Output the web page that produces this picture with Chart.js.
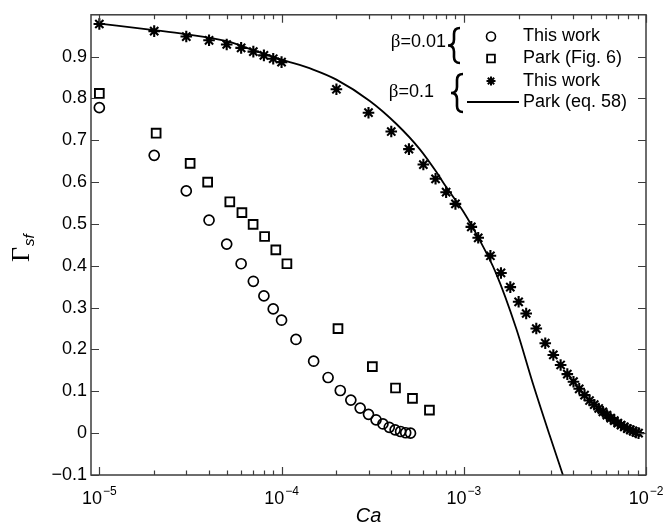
<!DOCTYPE html>
<html>
<head>
<meta charset="utf-8">
<script src="https://cdn.jsdelivr.net/npm/chart.js@4.4.1/dist/chart.umd.min.js"></script>
<style>
  html, body { margin: 0; padding: 0; background: #fff; }
  #wrap { width: 665px; height: 528px; }
</style>
</head>
<body>
<div id="wrap"><canvas id="c" width="665" height="528"></canvas></div>
<script>
// beta = 0.01, this work (circles)
const caCircle = [1e-5, 2e-5, 3e-5, 4e-5, 5e-5, 6e-5, 7e-5, 8e-5, 9e-5, 1e-4, 1.2e-4, 1.5e-4, 1.8e-4,
  2.1e-4, 2.4e-4, 2.7e-4, 3.0e-4, 3.3e-4, 3.6e-4, 3.9e-4, 4.2e-4, 4.5e-4, 4.8e-4, 5.1e-4];
const gCircle = [0.778, 0.664, 0.579, 0.509, 0.452, 0.405, 0.363, 0.328, 0.297, 0.270, 0.224, 0.172, 0.133,
  0.102, 0.079, 0.060, 0.045, 0.032, 0.022, 0.014, 0.008, 0.004, 0.001, 0.000];

// beta = 0.01, Park (Fig. 6) (squares)
const caSquare = [1e-5, 2.05e-5, 3.15e-5, 3.93e-5, 5.2e-5, 6.06e-5, 6.98e-5, 8.07e-5, 9.3e-5, 1.07e-4,
  2.04e-4, 3.15e-4, 4.22e-4, 5.23e-4, 6.48e-4];
const gSquare = [0.812, 0.717, 0.645, 0.600, 0.553, 0.527, 0.499, 0.470, 0.438, 0.405,
  0.250, 0.159, 0.108, 0.083, 0.055];

// beta = 0.1, this work (asterisks)
const caStar = [1e-5, 2e-5, 3e-5, 4e-5, 5e-5, 6e-5, 7e-5, 8e-5, 9e-5, 1e-4,
  2e-4, 3e-4, 4e-4, 5e-4, 6e-4, 7e-4, 8e-4, 9e-4,
  1.1e-3, 1.2e-3, 1.4e-3, 1.6e-3, 1.8e-3, 2.0e-3, 2.2e-3,
  2.5e-3, 2.8e-3, 3.1e-3, 3.4e-3, 3.7e-3, 4.0e-3, 4.3e-3, 4.6e-3, 4.9e-3, 5.2e-3, 5.5e-3, 5.8e-3,
  6.1e-3, 6.4e-3, 6.7e-3, 7.0e-3, 7.3e-3, 7.6e-3, 7.9e-3, 8.2e-3, 8.5e-3, 8.8e-3, 9.1e-3];
const gStar = [0.978, 0.961, 0.948, 0.939, 0.929, 0.921, 0.912, 0.903, 0.895, 0.887,
  0.822, 0.766, 0.721, 0.679, 0.642, 0.608, 0.576, 0.548,
  0.493, 0.467, 0.424, 0.383, 0.349, 0.314, 0.286,
  0.250, 0.215, 0.187, 0.163, 0.141, 0.123, 0.106, 0.091, 0.078, 0.068, 0.059, 0.051,
  0.043, 0.036, 0.030, 0.024, 0.019, 0.015, 0.011, 0.008, 0.005, 0.002, 0.000];

// beta = 0.1, Park (eq. 58) (solid line)
const caPark = [1e-5, 1.94e-5, 2.95e-5, 5.0e-5, 6.85e-5, 1e-4, 1.49e-4, 2.0e-4, 3.05e-4, 4.27e-4,
  5.73e-4, 7.08e-4, 7.96e-4, 9.9e-4, 1.22e-3, 1.5e-3, 1.94e-3, 2.39e-3, 2.96e-3, 3.5e-3];
const gPark = [0.979, 0.964, 0.954, 0.937, 0.917, 0.893, 0.869, 0.845, 0.794, 0.739,
  0.679, 0.624, 0.590, 0.531, 0.462, 0.383, 0.250, 0.120, -0.005, -0.100];

const xTickExps = [-5, -4, -3, -2];
const yTicks = [-0.1, 0, 0.1, 0.2, 0.3, 0.4, 0.5, 0.6, 0.7, 0.8, 0.9];

const SANS = '"Liberation Sans", Arial, sans-serif';
const SERIF = '"Liberation Serif", "Times New Roman", serif';

const pts = (xs, ys) => xs.map((v, i) => ({ x: v, y: ys[i] }));

function drawBrace(ctx, x, yTop, yBot, w) {
  const ym = (yTop + yBot) / 2;
  const xm = x + w / 2;
  ctx.beginPath();
  ctx.moveTo(x + w, yTop);
  ctx.quadraticCurveTo(xm, yTop, xm, yTop + w / 2);
  ctx.lineTo(xm, ym - w / 2);
  ctx.quadraticCurveTo(xm, ym, x, ym);
  ctx.quadraticCurveTo(xm, ym, xm, ym + w / 2);
  ctx.lineTo(xm, yBot - w / 2);
  ctx.quadraticCurveTo(xm, yBot, x + w, yBot);
  ctx.stroke();
}

const frame = {
  id: 'frame',
  afterDraw(chart) {
    const { ctx, chartArea: a, scales: { x, y } } = chart;
    ctx.save();

    // box + inward ticks
    ctx.strokeStyle = '#3c3c3c';
    ctx.lineWidth = 1.5;
    ctx.strokeRect(a.left, a.top, a.right - a.left, a.bottom - a.top);
    ctx.lineWidth = 1.2;
    ctx.beginPath();
    yTicks.forEach(v => {
      const py = Math.round(y.getPixelForValue(v)) + 0.5;
      ctx.moveTo(a.left, py); ctx.lineTo(a.left + 8, py);
      ctx.moveTo(a.right, py); ctx.lineTo(a.right - 8, py);
    });
    for (let e = -6; e <= -2; e++) {
      for (let k = 1; k <= 9; k++) {
        const v = k * Math.pow(10, e);
        if (v <= x.min * 1.001 || v > x.max * 1.001) continue;
        const px = Math.round(x.getPixelForValue(v)) + 0.5;
        const len = k === 1 ? 8 : 4.5;
        ctx.moveTo(px, a.bottom); ctx.lineTo(px, a.bottom - len);
        ctx.moveTo(px, a.top); ctx.lineTo(px, a.top + len);
      }
    }
    ctx.stroke();

    // x tick labels 10^n
    ctx.fillStyle = '#000';
    ctx.textAlign = 'left';
    ctx.textBaseline = 'alphabetic';
    xTickExps.forEach(e => {
      const px = x.getPixelForValue(Math.pow(10, e));
      const es = '\u2212' + Math.abs(e);
      ctx.font = '18px ' + SANS;
      const wb = ctx.measureText('10').width;
      ctx.font = '12px ' + SANS;
      const we = ctx.measureText(es).width;
      const x0 = px - (wb + we + 1) / 2;
      ctx.font = '18px ' + SANS;
      ctx.fillText('10', x0, 504);
      ctx.font = '12px ' + SANS;
      ctx.fillText(es, x0 + wb + 1, 495);
    });

    // x title
    ctx.font = 'italic 20px ' + SANS;
    ctx.textAlign = 'center';
    ctx.fillText('Ca', (a.left + a.right) / 2, 522);

    // y title
    ctx.save();
    ctx.translate(29, 262);
    ctx.rotate(-Math.PI / 2);
    ctx.textAlign = 'left';
    ctx.font = '26px ' + SERIF;
    ctx.fillText('\u0393', 0, 0);
    const wg = ctx.measureText('\u0393').width;
    ctx.font = 'italic 15px ' + SANS;
    ctx.fillText('sf', wg + 1, 5);
    ctx.restore();

    // legend symbols (hollow)
    const rows = [36.5, 58.5, 81, 102];
    const sx = 491, tx = 523;
    ctx.strokeStyle = '#000';
    ctx.fillStyle = 'rgba(0,0,0,0)';
    ctx.lineWidth = 1.6;
    Chart.helpers.drawPoint(ctx, { pointStyle: 'circle', radius: 4.5, borderWidth: 1.6 }, sx, rows[0]);
    ctx.lineWidth = 1.8;
    Chart.helpers.drawPoint(ctx, { pointStyle: 'rect', radius: 5.5, borderWidth: 1.8 }, sx, rows[1]);
    ctx.lineWidth = 2;
    Chart.helpers.drawPoint(ctx, { pointStyle: 'star', radius: 4.5, borderWidth: 2 }, sx, rows[2]);
    ctx.lineWidth = 1.8;
    ctx.beginPath();
    ctx.moveTo(467, rows[3]); ctx.lineTo(519, rows[3]);
    ctx.stroke();

    ctx.fillStyle = '#000';
    ctx.textAlign = 'left';
    ctx.textBaseline = 'middle';
    ctx.font = '18px ' + SANS;
    ctx.fillText('This work', tx, rows[0]);
    ctx.fillText('Park (Fig. 6)', tx, rows[1]);
    ctx.fillText('This work', tx, rows[2]);
    ctx.fillText('Park (eq. 58)', tx, rows[3]);

    // beta labels
    const betaLabel = (txt, xr, yc) => {
      ctx.font = '18px ' + SANS;
      const wt = ctx.measureText(txt).width;
      ctx.font = '19px ' + SERIF;
      const wbeta = ctx.measureText('\u03B2').width;
      const x0 = xr - wt - wbeta;
      ctx.fillText('\u03B2', x0, yc);
      ctx.font = '18px ' + SANS;
      ctx.fillText(txt, x0 + wbeta, yc);
    };
    betaLabel('=0.01', 446, 42);
    betaLabel('=0.1', 434, 92);

    ctx.lineWidth = 2.6;
    ctx.strokeStyle = '#000';
    drawBrace(ctx, 448, 28, 63, 12);
    drawBrace(ctx, 451, 74, 112, 12);

    ctx.restore();
  }
};

new Chart(document.getElementById('c'), {
  type: 'scatter',
  data: {
    datasets: [
      {
        label: 'This work (β=0.01)',
        data: pts(caCircle, gCircle),
        pointStyle: 'circle',
        pointRadius: 5,
        borderColor: '#000',
        backgroundColor: 'rgba(0,0,0,0)',
        pointBorderWidth: 1.7
      },
      {
        label: 'Park (Fig. 6)',
        data: pts(caSquare, gSquare),
        pointStyle: 'rect',
        pointRadius: 6.2,
        borderColor: '#000',
        backgroundColor: 'rgba(0,0,0,0)',
        pointBorderWidth: 1.9
      },
      {
        label: 'This work (β=0.1)',
        data: pts(caStar, gStar),
        pointStyle: 'star',
        pointRadius: 5.8,
        borderColor: '#000',
        backgroundColor: '#000',
        pointBorderWidth: 2.1
      },
      {
        label: 'Park (eq. 58)',
        data: pts(caPark, gPark),
        showLine: true,
        pointRadius: 0,
        borderColor: '#000',
        borderWidth: 1.8,
        cubicInterpolationMode: 'monotone'
      }
    ]
  },
  options: {
    responsive: false,
    animation: false,
    devicePixelRatio: 1,
    events: [],
    layout: { padding: { left: 0, right: 19, top: 12, bottom: 0 } },
    plugins: { legend: { display: false }, tooltip: { enabled: false } },
    scales: {
      x: {
        type: 'logarithmic',
        min: 9e-6,
        max: 1e-2,
        grid: { display: false, drawTicks: false },
        border: { display: false },
        ticks: { display: false },
        afterFit: s => { s.height = 53; }
      },
      y: {
        type: 'linear',
        min: -0.1,
        max: 1.0,
        grid: { display: false, drawTicks: false },
        border: { display: false },
        ticks: {
          stepSize: 0.1,
          padding: 4,
          color: '#000',
          font: { family: SANS, size: 18 },
          callback: v => {
            const r = Math.round(v * 10) / 10;
            if (r >= 1) return '';
            if (r === 0) return '0';
            return (r < 0 ? '\u2212' : '') + Math.abs(r).toFixed(1);
          }
        },
        afterFit: s => { s.width = 91; }
      }
    }
  },
  plugins: [frame]
});
</script>
</body>
</html>
